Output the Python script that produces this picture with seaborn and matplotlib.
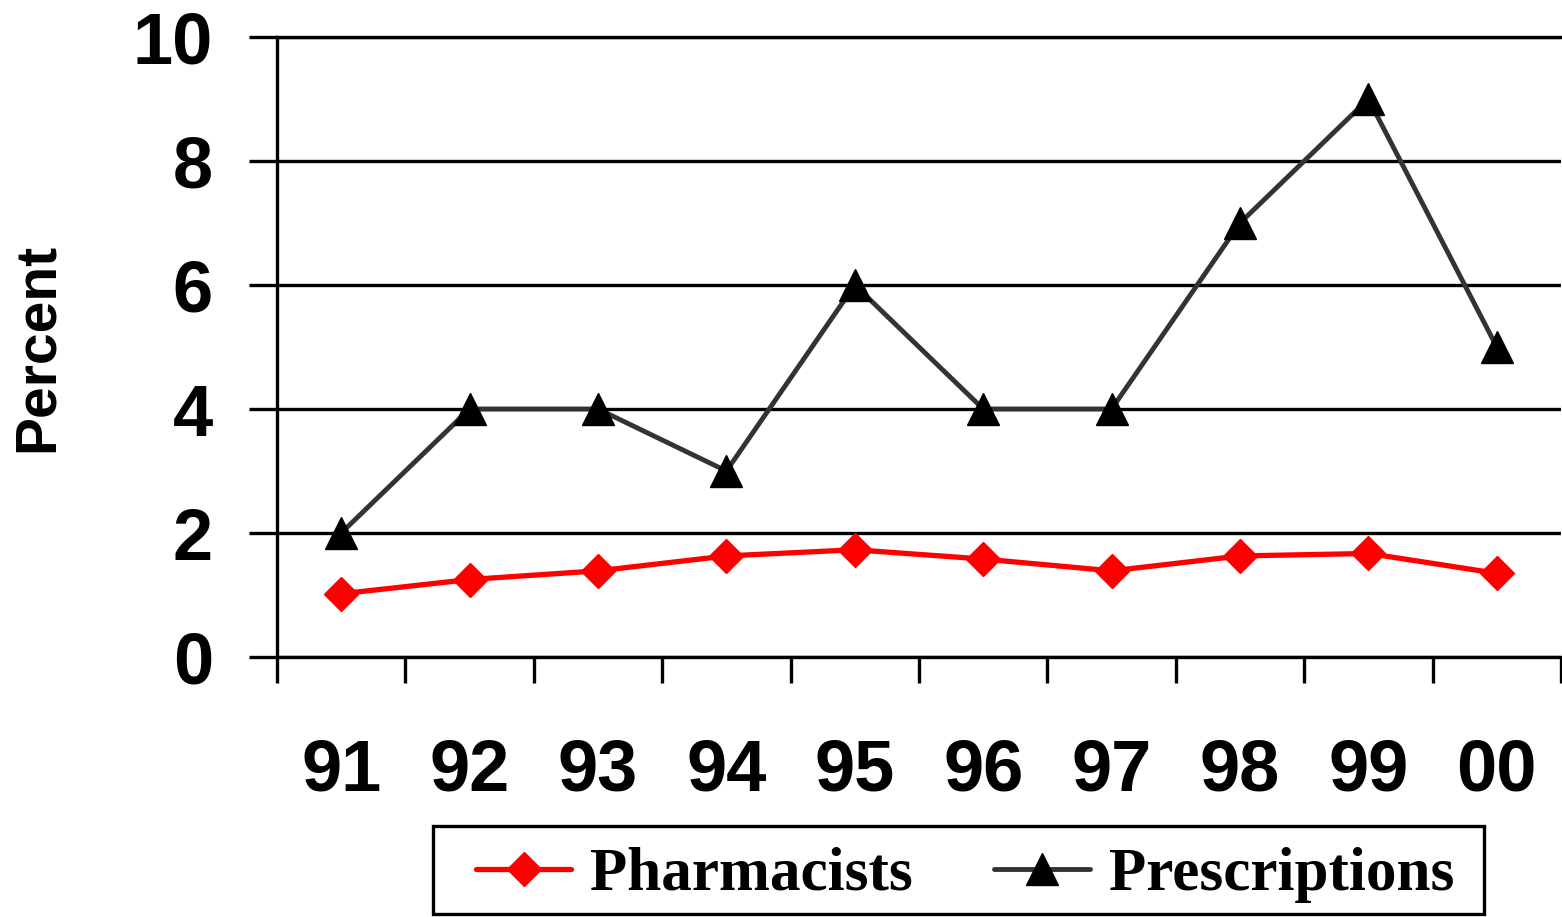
import numpy as np
import pandas as pd
import matplotlib
matplotlib.use("Agg")
import matplotlib.pyplot as plt
from matplotlib.patches import Rectangle
import seaborn as sns

# Survey years and the two series (percent)
years = ["91", "92", "93", "94", "95", "96", "97", "98", "99", "00"]
pharmacists = [1.02, 1.25, 1.39, 1.63, 1.73, 1.58, 1.39, 1.63, 1.67, 1.35]
prescriptions = [2, 4, 4, 3, 6, 4, 4, 7, 9, 5]
y_ticks = [0, 2, 4, 6, 8, 10]

sns.set_theme(style="white")
plt.rcParams["font.family"] = ["Liberation Sans", "DejaVu Sans"]

W, H = 1562, 917
fig = plt.figure(figsize=(W / 100, H / 100), dpi=100)
ax = fig.add_axes([277 / W, 1 - 657 / H, (1561 - 277) / W, (657 - 37) / H])

df = pd.DataFrame({"year": years, "Pharmacists": pharmacists,
                   "Prescriptions": prescriptions})

sns.lineplot(data=df, x="year", y="Pharmacists", ax=ax, sort=False,
             color="#ff0000", linewidth=3.8, marker="D", markersize=17.5,
             markerfacecolor="#ff0000", markeredgecolor="#ff0000",
             markeredgewidth=1, label="Pharmacists", zorder=4)
sns.lineplot(data=df, x="year", y="Prescriptions", ax=ax, sort=False,
             color="#333333", linewidth=3.5, marker="^", markersize=23,
             markerfacecolor="black", markeredgecolor="black",
             markeredgewidth=1, label="Prescriptions", zorder=5)

ax.set_xlim(-0.5, len(years) - 0.5)
ax.set_ylim(0, 10)
ax.set_xlabel("")
ax.set_ylabel("")

# horizontal grid lines in black
ax.set_yticks(y_ticks)
ax.set_yticklabels([str(v) for v in y_ticks])
ax.yaxis.grid(True, color="black", linewidth=2.4)
ax.xaxis.grid(False)
ax.set_axisbelow(True)

# category labels at centres, tick marks on the boundaries
ax.set_xticks(np.arange(len(years)))
ax.set_xticklabels(years)
ax.set_xticks(np.arange(-0.5, len(years)), minor=True)
ax.tick_params(axis="x", which="major", length=0, pad=58,
               labelsize=52, labelcolor="black")
ax.tick_params(axis="x", which="minor", length=19, width=2.4,
               color="black", direction="out", bottom=True)
ax.tick_params(axis="y", which="major", length=20, width=2.4,
               color="black", direction="out", left=True, pad=26,
               labelsize=52, labelcolor="black")
for lab in ax.get_xticklabels() + ax.get_yticklabels():
    lab.set_fontweight("bold")

for side in ["left", "bottom", "top"]:
    ax.spines[side].set_visible(True)
    ax.spines[side].set_color("black")
    ax.spines[side].set_linewidth(2.4)
ax.spines["right"].set_visible(False)

fig.text(38 / W, 1 - 347 / H, "Percent", rotation=90, ha="center",
         va="center", fontsize=41, fontweight="bold", color="black")

# legend below the plot, boxed
leg = ax.legend(loc="center", bbox_to_anchor=(965 / W, 1 - 875 / H),
                bbox_transform=fig.transFigure, ncol=2, frameon=False,
                borderpad=0, handlelength=1.56, handletextpad=0.31,
                columnspacing=1.33,
                prop={"family": "Liberation Serif", "weight": "bold",
                      "size": 44})
for t in leg.get_texts():
    t.set_color("black")
fig.patches.append(Rectangle((433 / W, 1 - 914 / H), (1484 - 433) / W,
                             (914 - 826) / H, transform=fig.transFigure,
                             fill=False, edgecolor="black", linewidth=2.4))

fig.savefig("out.png", dpi=100, facecolor="white")
